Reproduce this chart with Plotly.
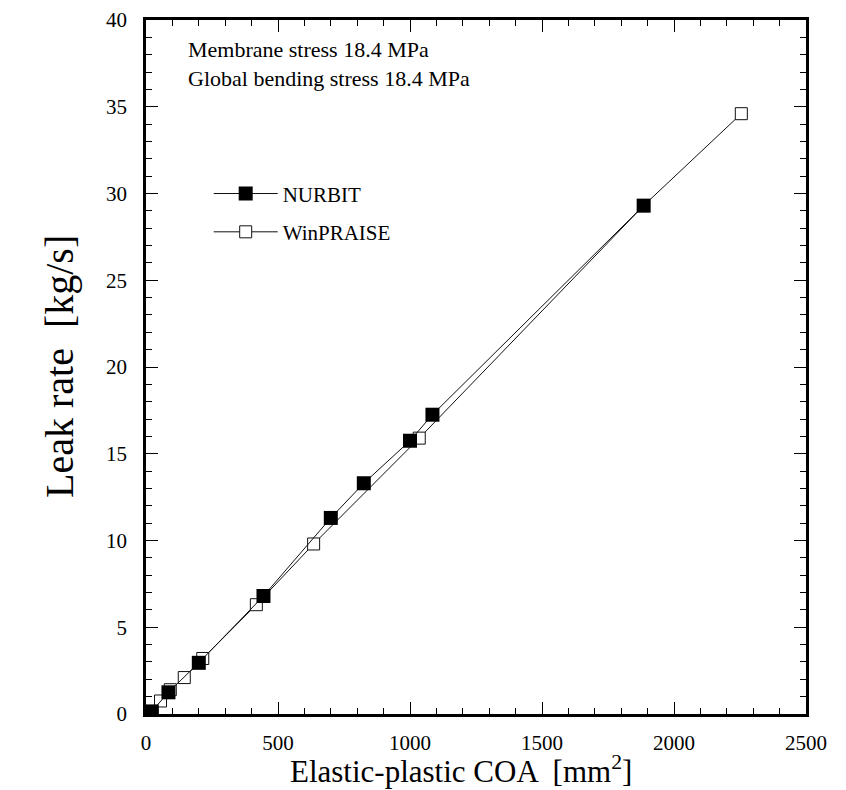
import plotly.graph_objects as go

nurbit_x = [22, 85, 200, 445, 700, 825, 1000, 1085, 1885]
nurbit_y = [0.15, 1.25, 2.95, 6.8, 11.3, 13.3, 15.75, 17.25, 29.3]
winpraise_x = [22, 55, 92, 145, 215, 418, 635, 1035, 1885, 2255]
winpraise_y = [0.12, 0.75, 1.4, 2.1, 3.2, 6.3, 9.8, 15.9, 29.3, 34.6]

FONT = "Liberation Serif, Times New Roman, serif"

fig = go.Figure()
fig.add_trace(go.Scatter(
    x=winpraise_x, y=winpraise_y, mode="lines+markers", name="WinPRAISE",
    line=dict(color="#111", width=1),
    marker=dict(symbol="square", size=12, color="white", line=dict(color="#111", width=1)),
    legendrank=2, legendgroup="w",
))
fig.add_trace(go.Scatter(
    x=nurbit_x, y=nurbit_y, mode="lines+markers", name="NURBIT",
    line=dict(color="#111", width=1),
    marker=dict(symbol="square", size=14, color="black", line=dict(color="black", width=0)),
    legendrank=1, legendgroup="n",
))

axis_common = dict(
    showline=True, linecolor="black", linewidth=2.5, mirror="ticks",
    ticks="inside", ticklen=12, tickwidth=1, tickcolor="black",
    showgrid=False, zeroline=False, automargin=False,
    tickfont=dict(family=FONT, size=21, color="black"),
)

fig.update_xaxes(
    range=[0, 2500], dtick=500, tick0=0,
    minor=dict(ticks="inside", dtick=100, ticklen=6, tickcolor="black", tickwidth=1),
    ticklabelstandoff=8,
    **axis_common,
)
fig.update_yaxes(
    range=[0, 40], dtick=5, tick0=0,
    minor=dict(ticks="inside", dtick=1, ticklen=6, tickcolor="black", tickwidth=1),
    ticklabelstandoff=12,
    **axis_common,
)

# axis titles
fig.add_annotation(
    xref="paper", yref="paper", x=0.478, y=0, xanchor="center", yanchor="middle",
    yshift=-55, showarrow=False,
    text="Elastic-plastic COA  [mm<sup>2</sup>]",
    font=dict(family=FONT, size=31, color="black"),
)
fig.add_annotation(
    xref="paper", yref="paper", x=0, y=0.5, xanchor="center", yanchor="middle",
    xshift=-87, showarrow=False, textangle=-90,
    text="Leak rate  [kg/s]",
    font=dict(family=FONT, size=40, color="black"),
)

fig.add_annotation(
    xref="paper", yref="paper", x=0.06, y=0.978, xanchor="left", yanchor="top",
    text="Membrane stress 18.4 MPa<br>Global bending stress 18.4 MPa",
    showarrow=False, align="left",
    font=dict(family=FONT, size=22, color="black"),
)

fig.update_layout(
    width=846, height=790,
    margin=dict(l=138, r=48, t=12, b=84),
    paper_bgcolor="white", plot_bgcolor="white",
    showlegend=True,
    legend=dict(
        x=0.095, y=0.779, xanchor="left", yanchor="top",
        bgcolor="rgba(0,0,0,0)", itemwidth=64,
        font=dict(family=FONT, size=21, color="black"),
        tracegroupgap=8, traceorder="grouped",
    ),
    font=dict(family=FONT),
)

fig.write_html("out.html")
